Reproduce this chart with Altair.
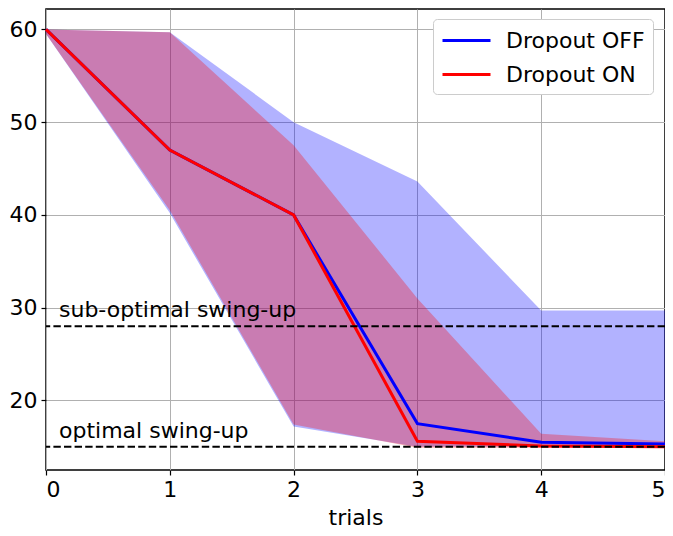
import altair as alt
import pandas as pd

trials = [0, 1, 2, 3, 4, 5]
off_mean = [60.0, 47.0, 40.0, 17.5, 15.5, 15.3]
off_low = [59.5, 40.2, 17.2, 15.0, 15.0, 15.0]
off_high = [60.0, 59.7, 50.0, 43.6, 29.7, 29.7]
on_mean = [60.0, 47.0, 40.0, 15.6, 15.1, 15.0]
on_low = [59.5, 40.5, 17.4, 14.9, 14.9, 14.9]
on_high = [60.0, 59.7, 47.5, 31.0, 16.4, 15.6]

ref_values = [28.0, 15.0]
ref_labels = ["sub-optimal swing-up", "optimal swing-up"]
ref_label_y = [29.0, 15.9]

series_names = ["Dropout OFF", "Dropout ON"]
series_colors = ["blue", "red"]

FONT = "DejaVu Sans"
FS = 22

df = pd.DataFrame({
    "trial": trials * 2,
    "mean": off_mean + on_mean,
    "low": off_low + on_low,
    "high": off_high + on_high,
    "series": [series_names[0]] * 6 + [series_names[1]] * 6,
})

H = 461
xs = alt.Scale(domain=[0, 5], nice=False, zero=False)
ys = alt.Scale(domain=[12.5, 62.2], nice=False, zero=False)

xax = alt.X("trial:Q", scale=xs,
            axis=alt.Axis(title="trials", values=[0, 1, 2, 3, 4, 5], format="d"))
yaxis = alt.Axis(title=None, values=[20, 30, 40, 50, 60])

base = alt.Chart(df)

area_off = base.transform_filter(alt.datum.series == series_names[0]).mark_area(
    color="blue", opacity=0.3).encode(
    x=xax, y=alt.Y("low:Q", scale=ys, axis=yaxis), y2="high:Q")
area_on = base.transform_filter(alt.datum.series == series_names[1]).mark_area(
    color="red", opacity=0.3).encode(
    x=xax, y=alt.Y("low:Q", scale=ys, axis=yaxis), y2="high:Q")

lines = base.mark_line(strokeWidth=3).encode(
    x=xax, y=alt.Y("mean:Q", scale=ys, axis=yaxis),
    color=alt.Color("series:N",
                    scale=alt.Scale(domain=series_names, range=series_colors),
                    legend=alt.Legend(title=None, orient="none", legendX=387, legendY=10,
                                      symbolType="M-1,0H3", symbolStrokeWidth=3,
                                      symbolSize=576, labelFontSize=FS, labelFont=FONT,
                                      labelColor="black",
                                      fillColor="white", strokeColor="#cccccc",
                                      cornerRadius=4, padding=8, rowPadding=9,
                                      labelOffset=38)),
)

refs = pd.DataFrame({"y": ref_values, "label": ref_labels, "ly": ref_label_y})
rules = alt.Chart(refs).mark_rule(color="black", strokeDash=[7.4, 3.2], strokeWidth=2).encode(
    y=alt.Y("y:Q", scale=ys))
texts = alt.Chart(refs).mark_text(align="left", baseline="alphabetic", fontSize=FS,
                                  font=FONT, color="black").encode(
    x=alt.value(13), y=alt.Y("ly:Q", scale=ys), text="label:N")

chart = alt.layer(area_off, area_on, lines, rules, texts).properties(
    width=619, height=H,
    autosize=alt.AutoSizeParams(type="none"),
    padding={"left": 38, "top": 1, "right": 0, "bottom": 58},
).configure_view(stroke="black", strokeWidth=1.5).configure_axis(
    grid=True, gridColor="#b0b0b0", gridWidth=1,
    domain=False, tickColor="black", tickSize=5, tickWidth=1.2,
    labelFont=FONT, labelFontSize=FS, labelColor="black", labelPadding=4,
    titleFont=FONT, titleFontSize=FS, titleFontWeight="normal", titleColor="black",
    titlePadding=7,
)

chart.save("out.html", embed_options={"renderer": "svg", "actions": False})
